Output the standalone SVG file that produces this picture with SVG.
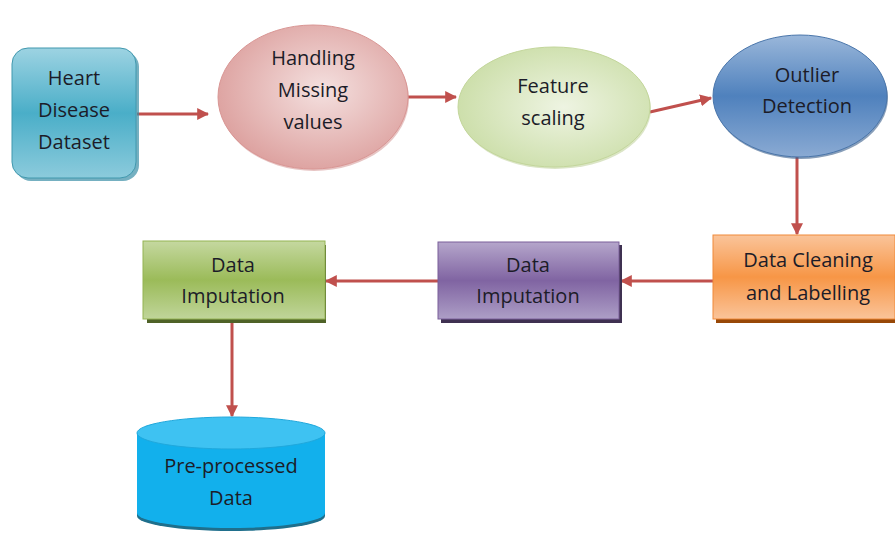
<svg xmlns="http://www.w3.org/2000/svg" width="895" height="533" viewBox="0 0 895 533">
  <style>
    .lbl { font-family: "Open Sans", "Liberation Sans", sans-serif; font-size: 20px; fill: #1c1c28; text-anchor: middle; }
    .conn { stroke: #c0504d; stroke-width: 3; fill: none; marker-end: url(#arrow); }
  </style>
  <defs>
    <marker id="arrow" viewBox="0 0 10 10" refX="9" refY="5" markerWidth="4" markerHeight="4" orient="auto" markerUnits="strokeWidth">
      <path d="M0,0 L10,5 L0,10 z" fill="#c0504d"/>
    </marker>
    <linearGradient id="gTeal" x1="0" y1="0" x2="0" y2="1">
      <stop offset="0" stop-color="#9dd3e2"/>
      <stop offset="0.5" stop-color="#4aaec8"/>
      <stop offset="1" stop-color="#8ccbdc"/>
    </linearGradient>
    <radialGradient id="gPink" cx="0.55" cy="0.45" r="0.6">
      <stop offset="0" stop-color="#f4e0df"/>
      <stop offset="1" stop-color="#dc9f9d"/>
    </radialGradient>
    <radialGradient id="gLime" cx="0.55" cy="0.5" r="0.6">
      <stop offset="0" stop-color="#eef4e2"/>
      <stop offset="1" stop-color="#cadda6"/>
    </radialGradient>
    <linearGradient id="gBlue" x1="0" y1="0" x2="0" y2="1">
      <stop offset="0" stop-color="#9ab7da"/>
      <stop offset="0.5" stop-color="#4f81bd"/>
      <stop offset="1" stop-color="#8aaad3"/>
    </linearGradient>
    <linearGradient id="gOrange" x1="0" y1="0" x2="0" y2="1">
      <stop offset="0" stop-color="#fac49a"/>
      <stop offset="0.5" stop-color="#f79646"/>
      <stop offset="1" stop-color="#fac49a"/>
    </linearGradient>
    <linearGradient id="gPurple" x1="0" y1="0" x2="0" y2="1">
      <stop offset="0" stop-color="#b5a6cb"/>
      <stop offset="0.5" stop-color="#8064a2"/>
      <stop offset="1" stop-color="#ad9ec6"/>
    </linearGradient>
    <linearGradient id="gGreen" x1="0" y1="0" x2="0" y2="1">
      <stop offset="0" stop-color="#c5d8a0"/>
      <stop offset="0.5" stop-color="#9bbb59"/>
      <stop offset="1" stop-color="#c0d59a"/>
    </linearGradient>
  </defs>

  <!-- connectors -->
  <g id="connectors">
    <line class="conn" x1="137" y1="114" x2="208" y2="114"/>
    <line class="conn" x1="408" y1="97" x2="456" y2="97"/>
    <line class="conn" x1="650" y1="112" x2="711" y2="98"/>
    <line class="conn" x1="797" y1="157" x2="797" y2="234"/>
    <line class="conn" x1="713" y1="281" x2="621" y2="281"/>
    <line class="conn" x1="438" y1="281" x2="326" y2="281"/>
    <line class="conn" x1="232" y1="323" x2="232" y2="416"/>
  </g>

  <!-- source dataset -->
  <g id="heart-dataset">
    <rect x="15" y="51" width="124" height="130" rx="16" fill="#3b8fa6" opacity="0.7"/>
    <rect x="12" y="48" width="124" height="130" rx="16" fill="url(#gTeal)" stroke="#4198ae" stroke-width="1"/>
    <text class="lbl" x="74" y="85">Heart</text>
    <text class="lbl" x="74" y="117">Disease</text>
    <text class="lbl" x="74" y="149">Dataset</text>
  </g>

  <g id="missing-values">
    <ellipse cx="314" cy="99" rx="95" ry="72" fill="#d08c8a" opacity="0.5"/>
    <ellipse cx="313" cy="97" rx="95" ry="72" fill="url(#gPink)" stroke="#d99694" stroke-width="1"/>
    <text class="lbl" x="313" y="65">Handling</text>
    <text class="lbl" x="313" y="97">Missing</text>
    <text class="lbl" x="313" y="129">values</text>
  </g>

  <g id="feature-scaling">
    <ellipse cx="555" cy="109" rx="96" ry="60" fill="#b7cc8e" opacity="0.5"/>
    <ellipse cx="554" cy="107" rx="96" ry="60" fill="url(#gLime)" stroke="#c3d69b" stroke-width="1"/>
    <text class="lbl" x="553" y="93">Feature</text>
    <text class="lbl" x="553" y="125">scaling</text>
  </g>

  <g id="outlier-detection">
    <ellipse cx="801" cy="98" rx="87" ry="61" fill="#385d8a" opacity="0.6"/>
    <ellipse cx="800" cy="96" rx="87" ry="61" fill="url(#gBlue)" stroke="#4a76ab" stroke-width="1"/>
    <text class="lbl" x="807" y="82">Outlier</text>
    <text class="lbl" x="807" y="113">Detection</text>
  </g>

  <g id="data-cleaning">
    <rect x="716" y="238" width="182" height="85" fill="#984807"/>
    <rect x="713" y="235" width="182" height="84" fill="url(#gOrange)" stroke="#f08a3a" stroke-width="1"/>
    <text class="lbl" x="808" y="267">Data Cleaning</text>
    <text class="lbl" x="808" y="300">and Labelling</text>
  </g>

  <g id="imputation-purple">
    <rect x="441" y="245" width="181" height="78" fill="#3f3151"/>
    <rect x="438" y="242" width="181" height="77" fill="url(#gPurple)" stroke="#7a5f9a" stroke-width="1"/>
    <text class="lbl" x="528" y="272">Data</text>
    <text class="lbl" x="528" y="303">Imputation</text>
  </g>

  <g id="imputation-green">
    <rect x="147" y="245" width="179" height="78" fill="#4f6228"/>
    <rect x="143" y="241" width="182" height="78" fill="url(#gGreen)" stroke="#94b352" stroke-width="1"/>
    <text class="lbl" x="233" y="272">Data</text>
    <text class="lbl" x="233" y="303">Imputation</text>
  </g>

  <g id="preprocessed-data">
    <path d="M137,433 L137,516 A94,15 0 0 0 325,516 L325,433 Z" fill="#1f6f8c"/>
    <path d="M137,433 L137,513 A94,15 0 0 0 325,513 L325,433 Z" fill="#12b0ec"/>
    <ellipse cx="231" cy="433" rx="94" ry="16" fill="#3ec2f2" stroke="#20a8dc" stroke-width="1"/>
    <text class="lbl" x="231" y="473">Pre-processed</text>
    <text class="lbl" x="231" y="505">Data</text>
  </g>
</svg>
